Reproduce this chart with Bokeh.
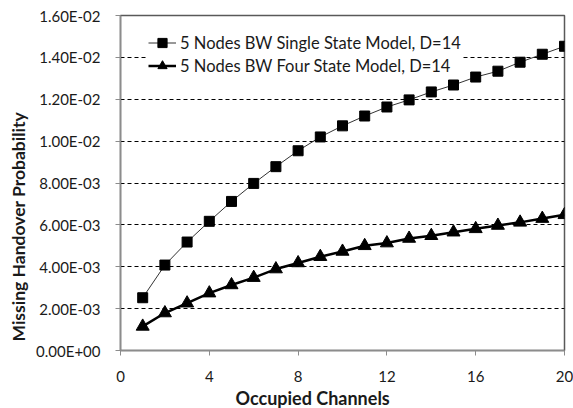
import math
from bokeh.plotting import figure
from bokeh.models import Range1d, FixedTicker, Legend, LegendItem, Title
from bokeh.embed import file_html
from bokeh.resources import INLINE

channels = list(range(1, 21))
single_state = [2.52e-3, 4.08e-3, 5.18e-3, 6.17e-3, 7.12e-3, 7.98e-3, 8.78e-3, 9.54e-3,
                1.02e-2, 1.073e-2, 1.12e-2, 1.163e-2, 1.197e-2, 1.235e-2, 1.268e-2,
                1.306e-2, 1.334e-2, 1.377e-2, 1.415e-2, 1.453e-2]
four_state = [1.15e-3, 1.79e-3, 2.26e-3, 2.74e-3, 3.13e-3, 3.48e-3, 3.89e-3, 4.18e-3,
              4.48e-3, 4.73e-3, 5.0e-3, 5.13e-3, 5.35e-3, 5.48e-3, 5.65e-3,
              5.81e-3, 5.97e-3, 6.12e-3, 6.3e-3, 6.48e-3]
series_names = ["5 Nodes BW Single State Model, D=14", "5 Nodes BW Four State Model, D=14"]
x_ticks = [0, 4, 8, 12, 16, 20]
y_ticks = [0.0, 0.002, 0.004, 0.006, 0.008, 0.010, 0.012, 0.014, 0.016]
y_tick_labels = ["0.00E+00", "2.00E-03", "4.00E-03", "6.00E-03", "8.00E-03",
                 "1.00E-02", "1.20E-02", "1.40E-02", "1.60E-02"]
x_title = "Occupied Channels"
y_title = "Missing Handover Probability"

FONT = "Lato"
TXT = "#1a1a1a"

p = figure(width=573, height=408, output_backend="svg", toolbar_location=None,
           x_range=Range1d(0, 20), y_range=Range1d(0, 0.016),
           min_border_left=118, min_border_right=9, min_border_top=15, min_border_bottom=56)
p.outline_line_color = "#595959"
p.outline_line_width = 1.5
p.background_fill_color = "white"
p.border_fill_color = "white"

# axes
p.xaxis.ticker = FixedTicker(ticks=x_ticks)
p.yaxis.ticker = FixedTicker(ticks=y_ticks)
p.yaxis.major_label_overrides = {t: l for t, l in zip(y_ticks, y_tick_labels)}
for ax in (p.xaxis[0], p.yaxis[0]):
    ax.axis_line_color = "#8c8c8c"
    ax.axis_line_width = 1.5
    ax.major_tick_line_color = "#8c8c8c"
    ax.major_tick_out = 5
    ax.major_tick_in = 0
    ax.minor_tick_line_color = None
    ax.major_label_text_font = FONT
    ax.major_label_text_font_size = "15px"
    ax.major_label_text_color = TXT
p.xaxis.major_label_standoff = 15
p.yaxis.major_label_standoff = 15

# grid
p.xgrid.grid_line_color = None
p.ygrid.ticker = FixedTicker(ticks=y_ticks[1:-1])
p.ygrid.grid_line_color = "black"
p.ygrid.grid_line_dash = "4 3"
p.ygrid.grid_line_width = 1

# series
l1 = p.line(channels, single_state, line_color="#333333", line_width=1)
m1 = p.scatter(channels, single_state, marker="square", size=10,
               fill_color="black", line_color="black")
l2 = p.line(channels, four_state, line_color="black", line_width=2.5)
m2 = p.scatter(channels, four_state, marker="triangle", size=13,
               fill_color="black", line_color="black")

legend = Legend(items=[LegendItem(label=series_names[0], renderers=[l1, m1]),
                       LegendItem(label=series_names[1], renderers=[l2, m2])],
                location=(28, 273), orientation="vertical")
legend.label_text_font = FONT
legend.label_text_font_size = "16.5px"
legend.label_text_color = TXT
legend.border_line_color = None
legend.background_fill_color = "white"
legend.background_fill_alpha = 1
legend.padding = 5
legend.margin = 0
legend.spacing = 0
legend.label_height = 23
legend.glyph_height = 23
legend.glyph_width = 28
legend.label_standoff = 4
p.add_layout(legend, "center")

# axis titles, placed like the reference
p.add_layout(Title(text=x_title, align="left", offset=115, standoff=0,
                   text_font=FONT, text_font_size="18px", text_font_style="bold",
                   text_color=TXT, text_line_height=0.9), "below")
p.add_layout(Title(text=y_title, align="left", offset=9, standoff=10,
                   text_font=FONT, text_font_size="17.5px", text_font_style="bold",
                   text_color=TXT), "left")

open("out.html", "w").write(file_html(p, INLINE))
